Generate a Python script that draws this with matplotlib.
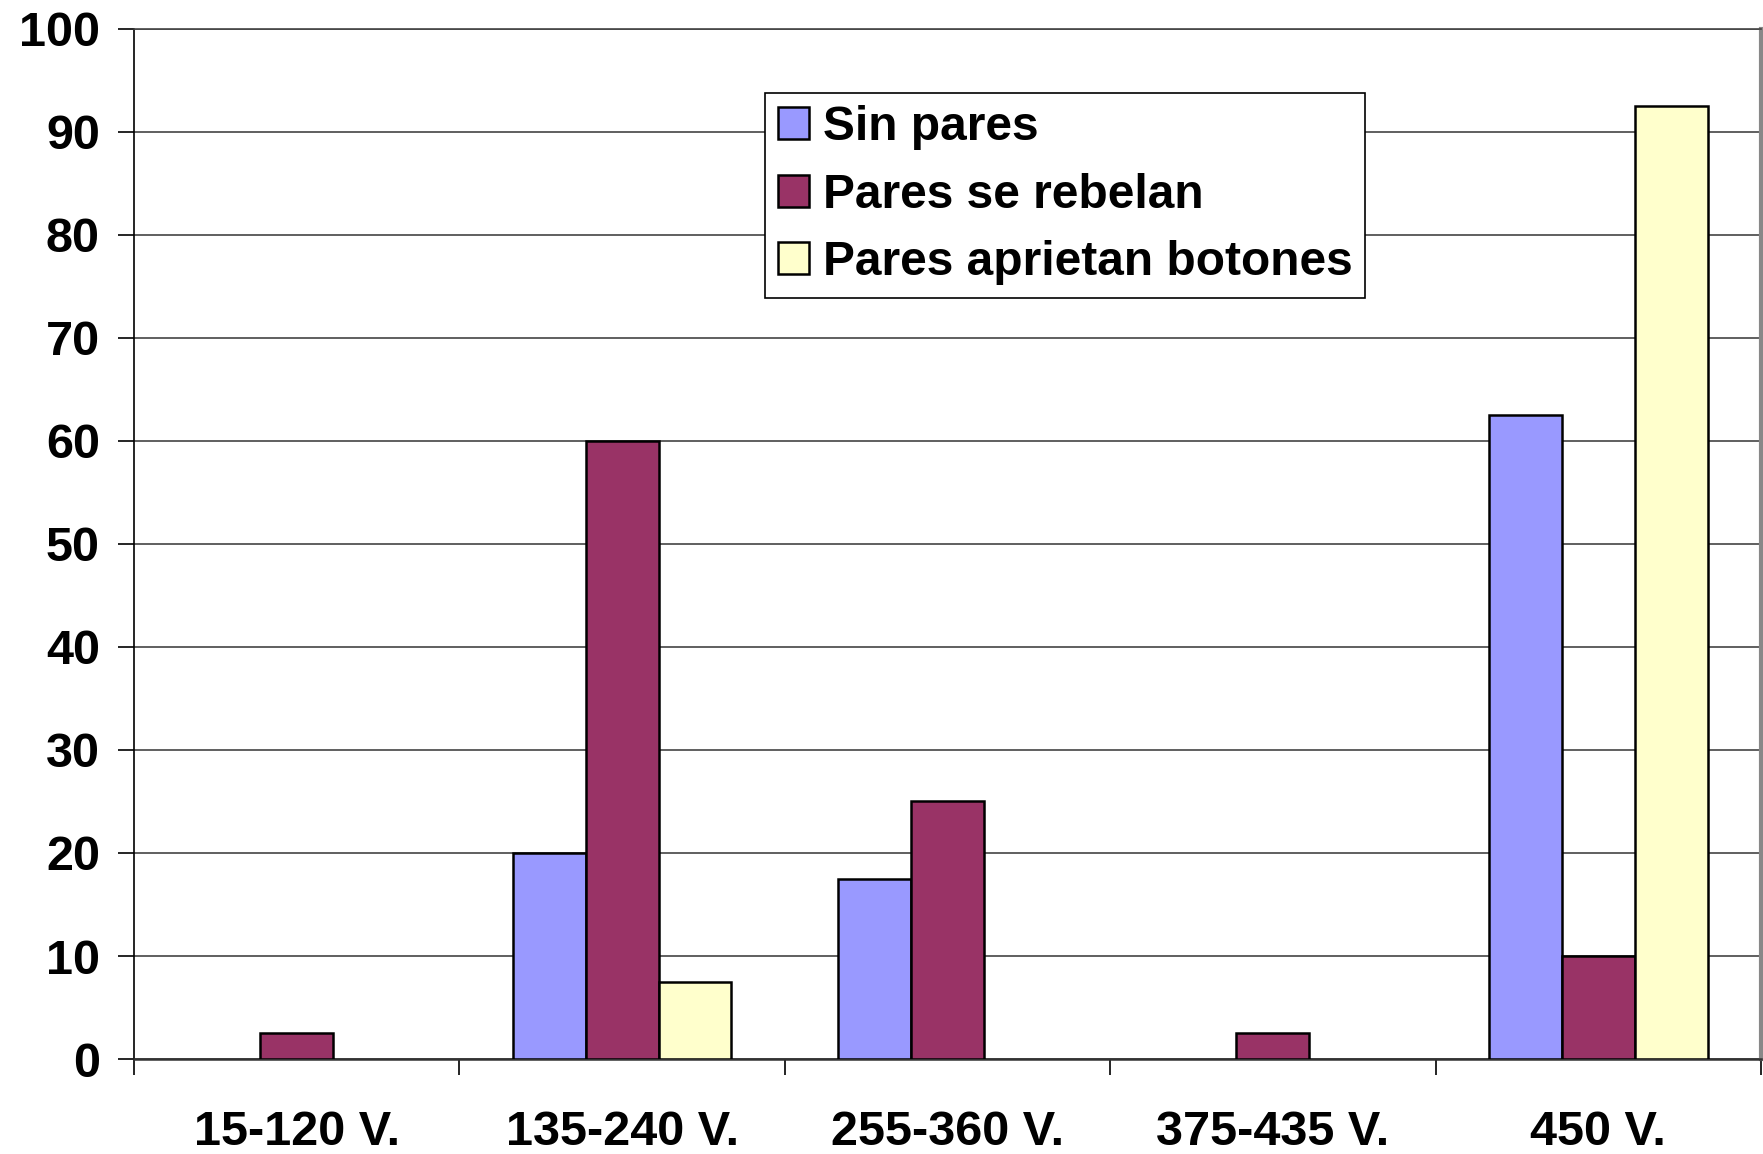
import numpy as np
import matplotlib.pyplot as plt

plt.rcParams['font.family'] = ['Liberation Sans', 'DejaVu Sans']
plt.rcParams['font.weight'] = 'bold'

categories = ["15-120 V.", "135-240 V.", "255-360 V.", "375-435 V.", "450 V."]
sin_pares = [0, 20, 17.5, 0, 62.5]
se_rebelan = [2.5, 60, 25, 2.5, 10]
aprietan = [0, 7.5, 0, 0, 92.5]
series_names = ["Sin pares", "Pares se rebelan", "Pares aprietan botones"]
colors = ["#9999FF", "#993366", "#FFFFCC"]

fig = plt.figure(figsize=(17.63, 11.54), dpi=100)
ax = fig.add_axes([0.076, 0.0823, 0.9229, 0.8927])

x = np.arange(len(categories))
w = 0.224
for i, (vals, name, c) in enumerate(zip([sin_pares, se_rebelan, aprietan], series_names, colors)):
    bars = ax.bar(x + (i - 1) * w, vals, width=w, color=c, edgecolor='black', linewidth=1.8,
                  label=name, zorder=3)
    # zero-height bars are invisible in the original: drop their outline
    for b, v in zip(bars, vals):
        if v == 0:
            b.set_linewidth(0)

ax.set_xlim(-0.5, len(categories) - 0.5)
ax.set_ylim(0, 100)
ax.set_yticks(np.arange(0, 101, 10))
ax.yaxis.grid(True, color='#444444', linewidth=1.2, zorder=0)
ax.tick_params(axis='y', labelsize=35, length=11.5, width=1.2, pad=13)

ax.set_xticks(x)
ax.set_xticklabels(categories)
ax.set_xticks(np.arange(-0.5, len(categories)), minor=True)
ax.tick_params(axis='x', which='major', length=0, labelsize=35, pad=37)
ax.tick_params(axis='x', which='minor', length=11.5, width=1.2)

for lbl in ax.get_xticklabels() + ax.get_yticklabels():
    lbl.set_fontweight('bold')

ax.spines['top'].set_color('#444444')
ax.spines['top'].set_linewidth(1.2)
ax.spines['right'].set_color('#888888')
ax.spines['right'].set_linewidth(3)
ax.spines['left'].set_color('black')
ax.spines['left'].set_linewidth(1.2)
ax.spines['bottom'].set_color('#333333')
ax.spines['bottom'].set_linewidth(1.8)

handles, labels = ax.get_legend_handles_labels()
leg = ax.legend(handles, labels, loc='upper left', bbox_to_anchor=(0.388, 0.938), fontsize=34.5,
                frameon=True, fancybox=False, framealpha=1, edgecolor='black',
                handlelength=0.65, handleheight=0.65, handletextpad=0.3,
                labelspacing=0.47, borderpad=0.26, borderaxespad=0)
leg.get_frame().set_linewidth(1.2)
for t in leg.get_texts():
    t.set_fontweight('bold')
for h in leg.legend_handles:
    h.set_linewidth(1.8)
    h.set_edgecolor('black')

fig.savefig("out.png", dpi=100)
